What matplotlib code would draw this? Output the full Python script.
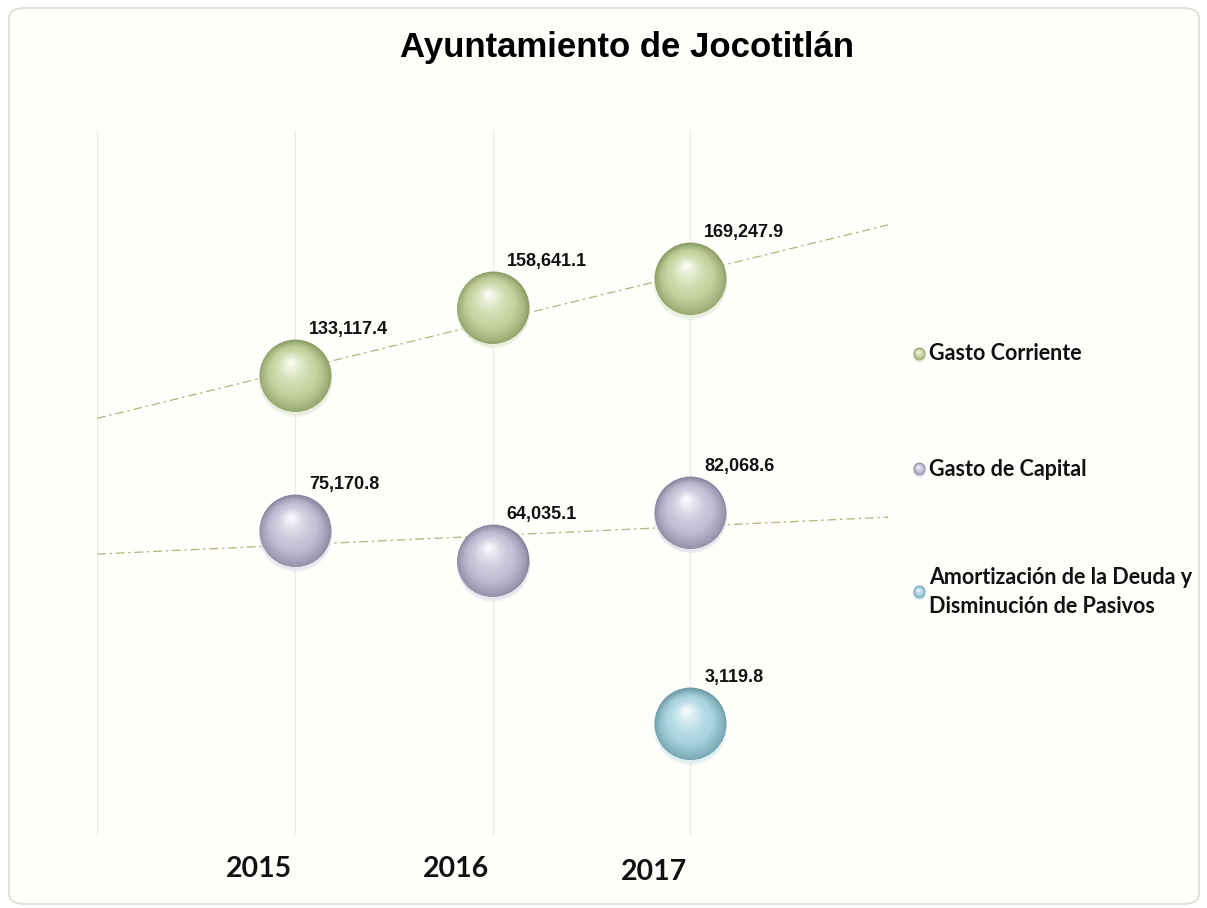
import numpy as np
import matplotlib
matplotlib.use("Agg")
import matplotlib.pyplot as plt
from matplotlib.transforms import offset_copy
from matplotlib.patches import FancyBboxPatch
from matplotlib.colors import to_rgb

# ---- data ----
title = "Ayuntamiento de Jocotitlán"
years = ["2015", "2016", "2017"]
series_names = ["Gasto Corriente", "Gasto de Capital",
                "Amortización de la Deuda y\nDisminución de Pasivos"]
gasto_corriente = [133117.4, 158641.1, 169247.9]
gasto_capital = [75170.8, 64035.1, 82068.6]
amortizacion = [None, None, 3119.8]
series_values = [gasto_corriente, gasto_capital, amortizacion]

# styles
sphere_cols = [  # (dark, mid, light)
    ("#8e9e66", "#c6d5a2", "#f7faee"),
    ("#8a869f", "#c4c0d6", "#f8f7fc"),
    ("#6d9ca8", "#acd6e1", "#f0f9fc"),
]
trend_color = "#b4b47a"

W, H = 1207, 908
fig = plt.figure(figsize=(W / 100, H / 100), dpi=100)
fig.patch.set_facecolor("white")

# rounded border
border = FancyBboxPatch((9 / W, 4 / H), (1190) / W, (896) / H,
                        boxstyle="round,pad=0,rounding_size=0.012",
                        transform=fig.transFigure, facecolor="#fffffc",
                        edgecolor="#dcdcd8", linewidth=1.2, zorder=-5)
fig.patches.append(border)

ax_l, ax_r, ax_t, ax_b = 97, 888, 130, 835
ax = fig.add_axes([ax_l / W, (H - ax_b) / H, (ax_r - ax_l) / W, (ax_b - ax_t) / H])
ax.set_facecolor("none")
ax.set_xlim(0, 4)
ax.set_ylim(-38000, 225200)
for s in ax.spines.values():
    s.set_visible(False)
ax.set_yticks([])
ax.set_xticks([])
for xv in [0, 1, 2, 3, 4]:
    ax.axvline(xv, color="#ebebeb", lw=1.0, zorder=1)

# year labels (shifted left of gridline as in the reference)
year_font = ["Lato", "DejaVu Sans"]
for i, yr in enumerate(years):
    tr = offset_copy(ax.get_xaxis_transform(), fig=fig, x=-36, y=-34 - (3 if i == 2 else 0), units="dots")
    ax.text(i + 1, 0, yr, transform=tr, ha="center", va="center",
            fontsize=20.5, fontweight="bold", family=year_font, color="#111111")

def blend(c1, c2, t):
    a, b = np.array(to_rgb(c1)), np.array(to_rgb(c2))
    return tuple(a + (b - a) * t)

def sphere(axis, x, y, diam_px, cols, z=5, shadow=True):
    dark, mid, light = cols
    if shadow:
        tr = offset_copy(axis.transData, fig=fig, x=0, y=-3, units="dots")
        axis.scatter(x, y, s=(diam_px * 0.72 * 1.0) ** 2, color="#000000", alpha=0.05,
                     linewidths=0, transform=tr, zorder=z)
    # bottom rim reflection
    tr = offset_copy(axis.transData, fig=fig, x=0, y=-1.5, units="dots")
    axis.scatter(x, y, s=(diam_px * 0.72) ** 2, color=blend(mid, "#ffffff", 0.6),
                 linewidths=0, transform=tr, zorder=z)
    N = 34
    for k in range(N):
        t = k / (N - 1)
        r = 1 - 0.93 * t
        if t < 0.4:
            c = blend(dark, mid, (t / 0.4) ** 0.7)
        else:
            c = blend(mid, light, ((t - 0.4) / 0.6) ** 1.4)
        dx = -0.06 * diam_px * t
        dy = 0.20 * diam_px * t
        trk = offset_copy(axis.transData, fig=fig, x=dx, y=dy + (1.5 if k == 0 else 0), units="dots")
        axis.scatter(x, y, s=(diam_px * r * 0.72 * (0.985 if k == 0 else 1)) ** 2, color=c,
                     linewidths=0, transform=trk, zorder=z + 0.01 * k)

label_font = ["Liberation Sans", "DejaVu Sans"]
xs_all = np.array([1, 2, 3])
for si, vals in enumerate(series_values):
    pts = [(xs_all[i], v) for i, v in enumerate(vals) if v is not None]
    px = np.array([p[0] for p in pts], float)
    py = np.array([p[1] for p in pts], float)
    if len(px) >= 2:
        m, b = np.polyfit(px, py, 1)
        xx = np.array([0, 4])
        ax.plot(xx, m * xx + b, color=trend_color, lw=0.9,
                linestyle=(0, (7, 3, 2, 3)), zorder=3)
    for x, v in zip(px, py):
        sphere(ax, x, v, 73, sphere_cols[si], z=5)
        trl = offset_copy(ax.transData, fig=fig, x=14, y=47, units="dots")
        ax.text(x, v, f"{v:,.1f}", transform=trl, ha="left", va="center",
                fontsize=13, fontweight="bold", family=label_font, color="#111111", zorder=20)

# legend (manual)
leg_font = ["Lato", "DejaVu Sans"]
leg_y = [354, 469, 592]
lax = fig.add_axes([0, 0, 1, 1], facecolor="none")
lax.set_xlim(0, W)
lax.set_ylim(H, 0)
lax.axis("off")
for i, name in enumerate(series_names):
    y = leg_y[i]
    sphere(lax, 919, y, 12, sphere_cols[i], z=5, shadow=False)
    lax.text(929, y, name, ha="left", va="center", fontsize=15.5, fontweight="bold",
             family=leg_font, color="#111111", linespacing=1.5)

fig.text(627 / W, 1 - 48 / H, title, ha="center", va="center", fontsize=25,
         fontweight="bold", family=["Liberation Sans", "DejaVu Sans"], color="#000000")

fig.savefig("out.png", dpi=100)
